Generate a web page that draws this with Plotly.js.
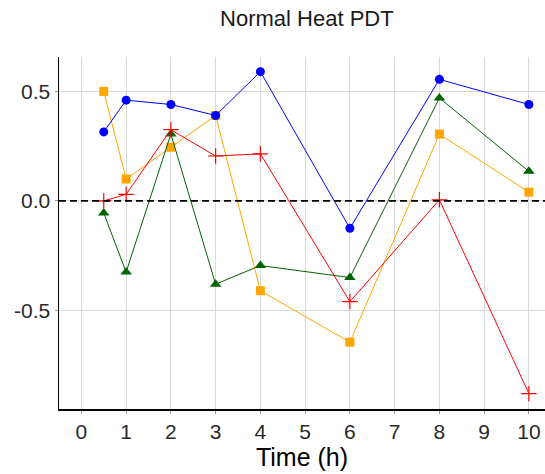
<!DOCTYPE html>
<html>
<head>
<meta charset="utf-8">
<script src="https://cdn.plot.ly/plotly-3.0.1.min.js"></script>
<style>
  html, body { margin: 0; padding: 0; background: #fff; }
  #chart { width: 545px; height: 474px; }
</style>
</head>
<body>
<div id="chart"></div>
<script>
// Sampling times (hours)
const timeH = [0.5, 1, 2, 3, 4, 6, 8, 10];

// Response series
const blueSeries   = [0.315, 0.46, 0.44, 0.39, 0.59, -0.125, 0.555, 0.44];
const orangeSeries = [0.50, 0.10, 0.245, 0.39, -0.41, -0.645, 0.305, 0.04];
const greenSeries  = [-0.055, -0.325, 0.305, -0.38, -0.295, -0.35, 0.47, 0.135];
const redSeries    = [0.0, 0.03, 0.325, 0.205, 0.215, -0.46, 0.005, -0.88];

const xTicks = [0, 1, 2, 3, 4, 5, 6, 7, 8, 9, 10];
const yTicks = [-0.5, 0.0, 0.5];
const yTickText = ['-0.5', '0.0', '0.5'];

function series(y, color, symbol, size, lineW) {
  return {
    x: timeH, y: y, type: 'scatter', mode: 'lines+markers',
    line: { color: color, width: 1 },
    marker: { color: color, symbol: symbol, size: size,
              line: { color: color, width: lineW } },
    showlegend: false, hoverinfo: 'skip'
  };
}

// Drawing order: later traces sit on top
const data = [
  series(orangeSeries, '#FFA500', 'square', 9, 0),
  series(greenSeries, '#006400', 'triangle-up', 10, 0),
  series(redSeries, '#FF0000', 'cross-thin-open', 11, 1.2),
  series(blueSeries, '#0000FF', 'circle', 9, 0)
];

const layout = {
  width: 545, height: 474,
  margin: { l: 59, r: 0, t: 57, b: 65 },
  paper_bgcolor: '#fff', plot_bgcolor: '#fff',
  font: { family: 'Liberation Sans, Arial, sans-serif', color: '#1a1a1a' },
  title: { text: 'Normal Heat PDT', x: 0.563, xanchor: 'center', y: 0.962, yanchor: 'middle',
           font: { size: 22, color: '#1a1a1a' } },
  xaxis: {
    range: [-0.5, 10.36], tickvals: xTicks, ticktext: xTicks.map(String),
    showgrid: true, gridcolor: '#d9d9d9', gridwidth: 1,
    zeroline: false, showline: true, linecolor: '#000', linewidth: 1.5,
    ticks: 'outside', ticklen: 3, tickcolor: '#999', tickfont: { size: 21, color: '#2a2a2a' },
    title: { text: 'Time (h)', font: { size: 25, color: '#000' }, standoff: 4 }
  },
  yaxis: {
    range: [-0.950, 0.657], tickvals: yTicks, ticktext: yTickText,
    showgrid: true, gridcolor: '#d9d9d9', gridwidth: 1,
    zeroline: false, showline: true, linecolor: '#000', linewidth: 1.5,
    ticks: 'outside', ticklen: 3, tickcolor: '#999', tickfont: { size: 21, color: '#2a2a2a' }
  },
  shapes: [{
    type: 'line', xref: 'paper', x0: 0, x1: 1, yref: 'y', y0: 0, y1: 0,
    line: { color: '#000', width: 1.6, dash: '7px,4px' }, layer: 'above'
  }]
};

Plotly.newPlot('chart', data, layout, { staticPlot: true });
</script>
</body>
</html>
